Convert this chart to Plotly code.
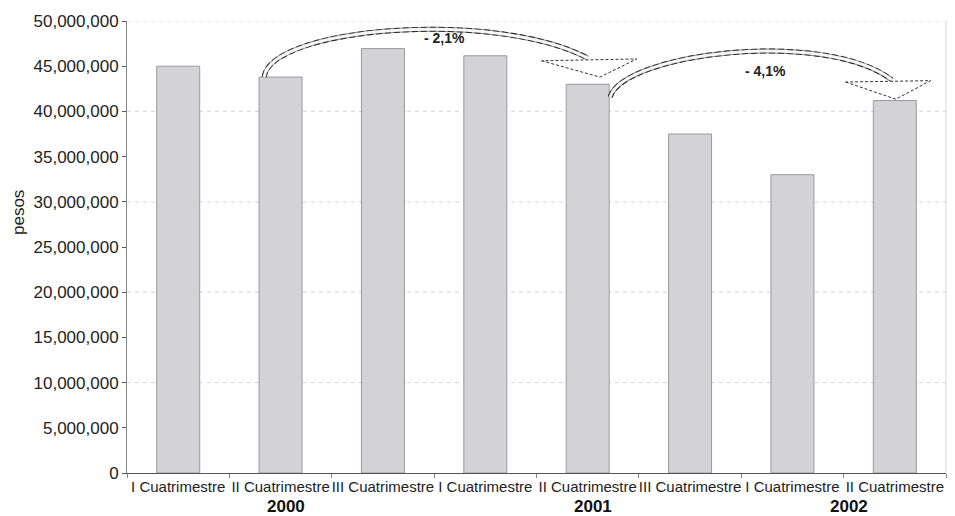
import plotly.graph_objects as go

# ---- data ----
categories = ["I Cuatrimestre", "II Cuatrimestre", "III Cuatrimestre",
              "I Cuatrimestre", "II Cuatrimestre", "III Cuatrimestre",
              "I Cuatrimestre", "II Cuatrimestre"]
years = ["2000", "2000", "2000", "2001", "2001", "2001", "2002", "2002"]
values = [45_000_000, 43_800_000, 46_950_000, 46_150_000,
          43_000_000, 37_500_000, 33_000_000, 41_200_000]
y_ticks = list(range(0, 50_000_001, 5_000_000))
y_tick_labels = [f"{v:,}" for v in y_ticks]
changes = [("- 2,1%", 1, 4), ("- 4,1%", 4, 7)]   # label, from bar, to bar

xs = list(range(len(categories)))
M = 1_000_000

fig = go.Figure()
fig.add_trace(go.Bar(
    x=xs, y=values, width=0.42,
    marker=dict(color="#d3d3d7", line=dict(color="#9a9a9a", width=1)),
    hoverinfo="skip",
))

shapes = []
# dashed gridlines every 10M
for v in y_ticks:
    if v > 0 and v % (10 * M) == 0:
        shapes.append(dict(type="line", xref="paper", x0=0, x1=1, yref="y", y0=v, y1=v,
                           line=dict(color="#d4d4d4", width=1, dash="4px,4px"), layer="below"))
# right border
shapes.append(dict(type="line", xref="paper", x0=1, x1=1, yref="paper", y0=0, y1=1,
                   line=dict(color="#d8d8d8", width=1)))


def cubic(p0, p1, p2, p3):
    return "M {} {} C {} {}, {} {}, {} {}".format(p0[0], p0[1], p1[0], p1[1], p2[0], p2[1], p3[0], p3[1])


# arrow 1 : from bar 1 top-left to bar 4
s, d = changes[0][1], changes[0][2]
p0 = (s - 0.16, values[s])
p1 = (s - 0.10, values[s] + 5.5 * M)
p2 = (s + 2.1, values[s] + 7.5 * M)
p3 = (d - 0.0, values[s] + 2.1 * M)
path1 = cubic(p0, p1, p2, p3)
tri1 = "M {} {} L {} {} L {} {} Z".format(d - 0.45, values[d] + 2.6 * M, d + 0.12, values[d] + 0.8 * M,
                                           d + 0.48, values[d] + 2.8 * M)
# arrow 2 : from bar 4 top-right to bar 7
s2, d2 = changes[1][1], changes[1][2]
q0 = (s2 + 0.22, values[s2] - 1.4 * M)
q1 = (s2 + 0.35, values[s2] + 3.4 * M)
q2 = (s2 + 2.3, values[s2] + 6.2 * M)
q3 = (d2 - 0.03, values[d2] + 2.3 * M)
path2 = cubic(q0, q1, q2, q3)
tri2 = "M {} {} L {} {} L {} {} Z".format(d2 - 0.48, values[d2] + 2.05 * M, d2 + 0.01, values[d2] + 0.15 * M,
                                           d2 + 0.35, values[d2] + 2.2 * M)

for p in (path1, path2):
    shapes.append(dict(type="path", xref="x", yref="y", path=p,
                       line=dict(color="#8a8a8a", width=5)))
    shapes.append(dict(type="path", xref="x", yref="y", path=p,
                       line=dict(color="#2a2a2a", width=5, dash="6px,3px")))
    shapes.append(dict(type="path", xref="x", yref="y", path=p,
                       line=dict(color="#f6f6f6", width=3)))
for t in (tri1, tri2):
    shapes.append(dict(type="path", xref="x", yref="y", path=t, fillcolor="white",
                       line=dict(color="#333333", width=1, dash="3px,2px")))

annotations = []
for (label, a, b), pos in zip(changes, [(2.6, 48.1 * M), (5.74, 44.5 * M)]):
    annotations.append(dict(x=pos[0], y=pos[1], xref="x", yref="y", text=f"<b>{label}</b>", showarrow=False,
                            font=dict(family="Arial", size=14, color="#222")))

# year labels centred under their categories
seen = []
for yr in years:
    if yr not in seen:
        seen.append(yr)
for yr in seen:
    idx = [i for i, v in enumerate(years) if v == yr]
    annotations.append(dict(x=sum(idx) / len(idx), y=0, xref="x", yref="paper", yanchor="middle",
                            yshift=-33, xshift=5, text=f"<b>{yr}</b>", showarrow=False,
                            font=dict(family="Arial", size=17, color="#111")))
# y axis title
annotations.append(dict(x=-(127 - 18) / 819, y=(473 - 213) / 452, xref="paper", yref="paper",
                        xanchor="center", yanchor="middle", text="pesos", showarrow=False,
                        textangle=-90, font=dict(family="Arial", size=17, color="#222")))

fig.update_layout(
    width=955, height=516,
    margin=dict(l=127, r=9, t=21, b=43),
    paper_bgcolor="white", plot_bgcolor="white",
    showlegend=False,
    shapes=shapes, annotations=annotations,
    font=dict(family="Arial", color="#222"),
    xaxis=dict(range=[-0.5, 7.5], tickvals=xs, ticktext=categories, ticks="", tickangle=0,
               showline=True, linecolor="#555", linewidth=1, showgrid=False, zeroline=False,
               tickfont=dict(size=15, color="#222"),
               minor=dict(tick0=-0.5, dtick=1, ticks="outside", ticklen=4, tickcolor="#888", showgrid=False)),
    yaxis=dict(range=[0, 50 * M], tickvals=y_ticks, ticktext=y_tick_labels, ticks="outside",
               ticklen=4, tickcolor="#555", showline=True, linecolor="#888", linewidth=1,
               showgrid=False, zeroline=False, tickfont=dict(size=17, color="#222")),
)

fig.write_html("out.html")
